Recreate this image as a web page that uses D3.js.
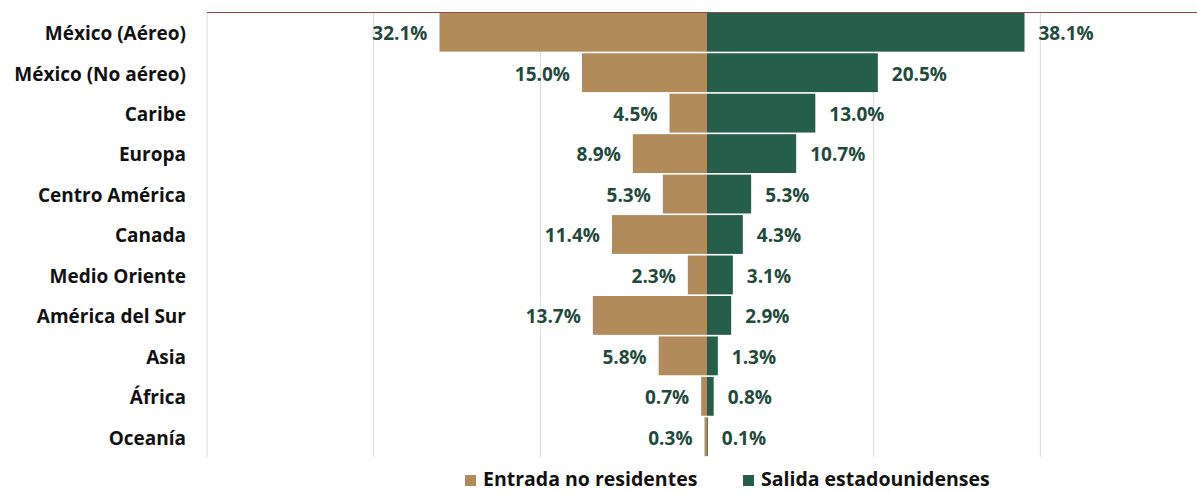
<!DOCTYPE html>
<html lang="es">
<head>
  <meta charset="UTF-8">
  <title>Chart</title>
  <style>
    body { margin:0; background:#fff; }
    text { font-family: "Open Sans", "Noto Sans", sans-serif; }
  </style>
  <script src="https://d3js.org/d3.v7.min.js"></script>
</head>
<body>
<svg></svg>
<script>
  const categories = ["México (Aéreo)", "México (No aéreo)", "Caribe", "Europa", "Centro América",
                      "Canada", "Medio Oriente", "América del Sur", "Asia", "África", "Oceanía"];
  const entrada = [32.1, 15.0, 4.5, 8.9, 5.3, 11.4, 2.3, 13.7, 5.8, 0.7, 0.3];
  const salida  = [38.1, 20.5, 13.0, 10.7, 5.3, 4.3, 3.1, 2.9, 1.3, 0.8, 0.1];
  const seriesNames = ["Entrada no residentes", "Salida estadounidenses"];
  const gridTicks = [-60, -40, -20, 0, 20, 40, 60];

  const W = 1197, H = 492;
  const tan = "#B18B5A", green = "#265E4C", labelCol = "#1F4A3C";

  const svg = d3.select("svg").attr("width", W).attr("height", H);

  const x = d3.scaleLinear().domain([-60, 60]).range([207, 1207]);
  const y = d3.scaleBand().domain(categories).range([12, 457]).paddingInner(0.04).paddingOuter(0.02);

  // grid
  svg.append("g").selectAll("line")
     .data(gridTicks.filter(d => d !== 0))
     .join("line")
     .attr("x1", d => x(d)).attr("x2", d => x(d))
     .attr("y1", 12).attr("y2", 457)
     .attr("stroke", "#d9d9d9").attr("stroke-width", 1);

  const rows = categories.map((c, i) => ({c, e: entrada[i], s: salida[i]}));

  // bars
  svg.append("g").selectAll("rect")
     .data(rows).join("rect")
     .attr("x", d => x(-d.e)).attr("width", d => x(0) - x(-d.e))
     .attr("y", d => y(d.c)).attr("height", y.bandwidth())
     .attr("fill", tan);
  svg.append("g").selectAll("rect")
     .data(rows).join("rect")
     .attr("x", x(0)).attr("width", d => x(d.s) - x(0))
     .attr("y", d => y(d.c)).attr("height", y.bandwidth())
     .attr("fill", green);

  // top border
  svg.append("line").attr("x1", 207).attr("x2", W).attr("y1", 12.5).attr("y2", 12.5)
     .attr("stroke", "#8E4B50").attr("stroke-width", 1.2);

  // value labels
  svg.append("g").selectAll("text")
     .data(rows).join("text")
     .attr("x", d => x(-d.e) - 12).attr("y", d => y(d.c) + y.bandwidth() / 2 + 1)
     .attr("dy", "0.36em").attr("text-anchor", "end")
     .attr("font-size", 19).attr("font-weight", "bold").attr("fill", labelCol)
     .text(d => d.e.toFixed(1) + "%");
  svg.append("g").selectAll("text")
     .data(rows).join("text")
     .attr("x", d => x(d.s) + 14).attr("y", d => y(d.c) + y.bandwidth() / 2 + 1)
     .attr("dy", "0.36em").attr("text-anchor", "start")
     .attr("font-size", 19).attr("font-weight", "bold").attr("fill", labelCol)
     .text(d => d.s.toFixed(1) + "%");

  // category labels
  svg.append("g").selectAll("text")
     .data(categories).join("text")
     .attr("x", 186).attr("y", d => y(d) + y.bandwidth() / 2 + 1)
     .attr("dy", "0.36em").attr("text-anchor", "end")
     .attr("font-size", 19).attr("font-weight", "bold").attr("fill", "#111")
     .text(d => d);

  // legend
  const leg = svg.append("g").attr("transform", "translate(0,480)");
  const legX = [465, 743];
  [tan, green].forEach((col, i) => {
    leg.append("rect").attr("x", legX[i]).attr("y", -5).attr("width", 11).attr("height", 11).attr("fill", col);
    leg.append("text").attr("x", legX[i] + 18).attr("y", 0).attr("dy", "0.33em")
       .attr("font-size", 19.5).attr("font-weight", "bold").attr("fill", "#111")
       .text(seriesNames[i]);
  });
</script>
</body>
</html>
